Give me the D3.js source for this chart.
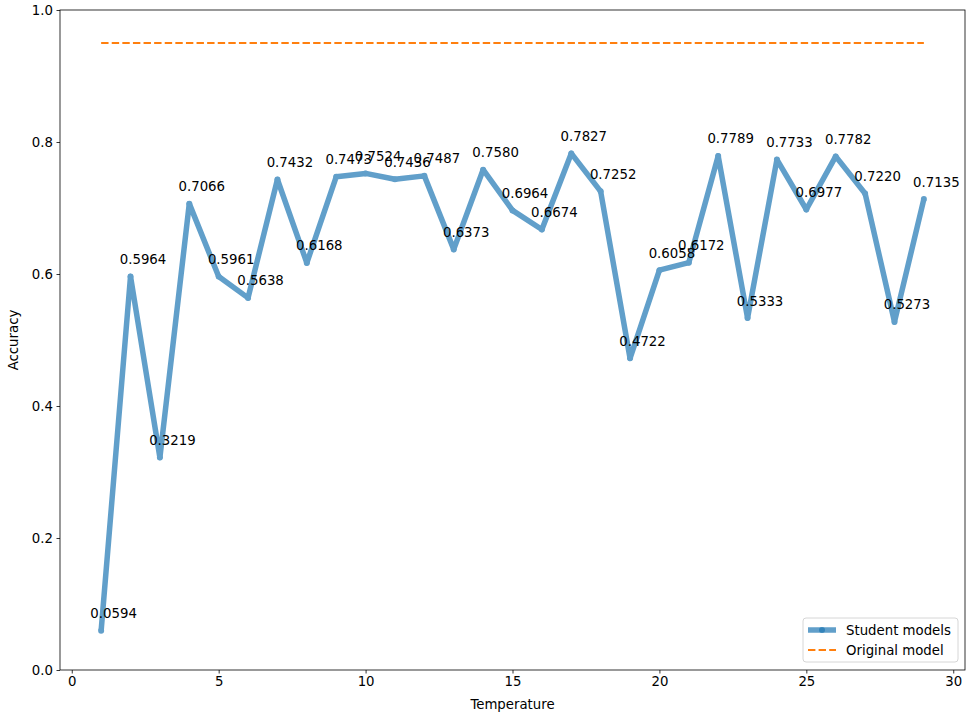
<!DOCTYPE html>
<html>
<head>
<meta charset="utf-8">
<script src="https://cdn.jsdelivr.net/npm/d3@7"></script>
<style>
  html, body { margin: 0; padding: 0; background: #fff; }
  svg { display: block; font-family: "DejaVu Sans", sans-serif; }
</style>
</head>
<body>
<svg id="chart" width="969" height="714"></svg>
<script>
// Accuracy of distilled student models per softmax temperature
const temperatures = [1, 2, 3, 4, 5, 6, 7, 8, 9, 10, 11, 12, 13, 14, 15, 16, 17, 18, 19, 20, 21, 22, 23, 24, 25, 26, 27, 28, 29];
const studentAccuracy = [0.0594, 0.5964, 0.3219, 0.7066, 0.5961, 0.5638, 0.7432, 0.6168, 0.7473, 0.7524,
  0.7436, 0.7487, 0.6373, 0.7580, 0.6964, 0.6674, 0.7827, 0.7252, 0.4722, 0.6058,
  0.6172, 0.7789, 0.5333, 0.7733, 0.6977, 0.7782, 0.7220, 0.5273, 0.7135];
const originalAccuracy = 0.95;
const xTicks = [0, 5, 10, 15, 20, 25, 30];
const yTicks = [0.0, 0.2, 0.4, 0.6, 0.8, 1.0];
const seriesNames = ["Student models", "Original model"];

const svg = d3.select("#chart");
const plotLeft = 60, plotRight = 965, plotTop = 10, plotBottom = 670;

const x = d3.scaleLinear().domain([-0.4, 30.4]).range([plotLeft, plotRight]);
const y = d3.scaleLinear().domain([0, 1]).range([plotBottom, plotTop]);

const blue = "#1f77b4", orange = "#ff7f0e";

// axes
const xAxis = d3.axisBottom(x).tickValues(xTicks).tickFormat(d3.format("d")).tickSize(3.5).tickPadding(3.5);
const yAxis = d3.axisLeft(y).tickValues(yTicks).tickFormat(d3.format(".1f")).tickSize(3.5).tickPadding(3.5);

const gx = svg.append("g").attr("transform", `translate(0,${plotBottom})`).call(xAxis);
const gy = svg.append("g").attr("transform", `translate(${plotLeft},0)`).call(yAxis);
[gx, gy].forEach(g => {
  g.select(".domain").remove();
  g.selectAll("line").attr("stroke", "#000").attr("stroke-width", 0.8);
  g.selectAll("text").attr("font-size", 13.3).attr("fill", "#000").attr("font-family", "DejaVu Sans, sans-serif");
});

// original model reference line
svg.append("line")
  .attr("x1", x(temperatures[0])).attr("x2", x(temperatures[temperatures.length - 1]))
  .attr("y1", y(originalAccuracy)).attr("y2", y(originalAccuracy))
  .attr("stroke", orange).attr("stroke-width", 2).attr("stroke-dasharray", "7.4,3.2");

// student models line
const data = temperatures.map((t, i) => ({ t, v: studentAccuracy[i] }));
const line = d3.line().x(d => x(d.t)).y(d => y(d.v));
const sg = svg.append("g").attr("opacity", 0.7);
sg.append("path").datum(data).attr("d", line)
  .attr("fill", "none").attr("stroke", blue).attr("stroke-width", 5.5)
  .attr("stroke-linejoin", "round");
sg.selectAll("circle").data(data).join("circle")
  .attr("cx", d => x(d.t)).attr("cy", d => y(d.v)).attr("r", 3)
  .attr("fill", blue);

// value annotations, offset up and to the right of each point
svg.append("g").selectAll("text").data(data).join("text")
  .attr("x", d => x(d.t) + 12.5).attr("y", d => y(d.v) - 12.5)
  .attr("text-anchor", "middle").attr("font-size", 13.3).attr("fill", "#000")
  .text(d => d.v.toFixed(4));

// frame
svg.append("rect").attr("x", plotLeft).attr("y", plotTop)
  .attr("width", plotRight - plotLeft).attr("height", plotBottom - plotTop)
  .attr("fill", "none").attr("stroke", "#000").attr("stroke-width", 0.8);

// axis labels
svg.append("text").attr("x", (plotLeft + plotRight) / 2).attr("y", 709).attr("text-anchor", "middle")
  .attr("font-size", 13.3).text("Temperature");
svg.append("text").attr("transform", `translate(18,${(plotTop + plotBottom) / 2}) rotate(-90)`)
  .attr("text-anchor", "middle").attr("font-size", 13.3).text("Accuracy");

// legend
const lg = svg.append("g").attr("transform", "translate(803,618)");
lg.append("rect").attr("x", 0).attr("y", 0).attr("width", 155).attr("height", 44).attr("rx", 3)
  .attr("fill", "#fff").attr("fill-opacity", 0.8).attr("stroke", "#ccc").attr("stroke-width", 0.8);
lg.append("line").attr("x1", 5).attr("x2", 33).attr("y1", 12).attr("y2", 12)
  .attr("stroke", blue).attr("stroke-width", 5.5).attr("opacity", 0.7);
lg.append("circle").attr("cx", 19).attr("cy", 12).attr("r", 3).attr("fill", blue).attr("opacity", 0.7);
lg.append("line").attr("x1", 5).attr("x2", 33).attr("y1", 32).attr("y2", 32)
  .attr("stroke", orange).attr("stroke-width", 2).attr("stroke-dasharray", "7.4,3.2");
lg.selectAll("text.lab").data(seriesNames).join("text").attr("class", "lab")
  .attr("x", 43).attr("y", (d, i) => 17 + i * 20).attr("font-size", 13.3).text(d => d);
</script>
</body>
</html>
